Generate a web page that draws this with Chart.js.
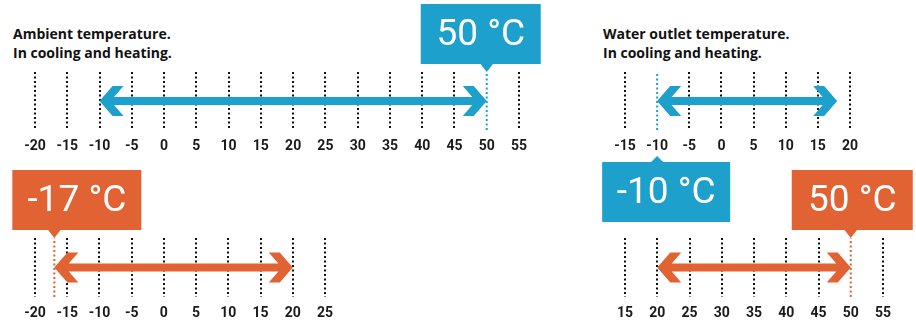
<!DOCTYPE html>
<html>
<head>
<meta charset="utf-8">
<script src="https://cdn.jsdelivr.net/npm/chart.js@4"></script>
<style>
  body { margin: 0; background: #fff; width: 916px; height: 322px; position: relative; overflow: hidden; font-family: Roboto, sans-serif; }
  canvas { position: absolute; }
  .title { position: absolute; font: bold 14px/19px "Open Sans", sans-serif; color: #111; }
</style>
</head>
<body>
<div class="title" style="left:13px; top:24px">Ambient temperature.<br>In cooling and heating.</div>
<div class="title" style="left:603px; top:24px">Water outlet temperature.<br>In cooling and heating.</div>

<canvas id="ambTop" width="560" height="160" style="left:0; top:0"></canvas>
<canvas id="watTop" width="336" height="230" style="left:580px; top:0"></canvas>
<canvas id="ambBot" width="360" height="162" style="left:0; top:160px"></canvas>
<canvas id="watBot" width="336" height="162" style="left:580px; top:160px"></canvas>

<script>
// data
const ambientTopRange = [-10, 50];
const ambientTopAxis = [-20, 55];
const ambientTopLabel = 50;

const ambientBotRange = [-17, 20];
const ambientBotAxis = [-20, 25];
const ambientBotLabel = -17;

const waterTopRange = [-10, 18];
const waterTopAxis = [-15, 20];
const waterTopLabel = -10;

const waterBotRange = [20, 50];
const waterBotAxis = [15, 55];
const waterBotLabel = 50;

const BLUE = '#1ea0cc';
const ORANGE = '#e16233';

// double arrow drawn from the two points of the "arrow" dataset
const arrowPlugin = {
  id: 'arrow',
  afterDatasetsDraw(chart) {
    const ctx = chart.ctx;
    chart.data.datasets.forEach((ds, i) => {
      if (!ds.arrow) return;
      const pts = chart.getDatasetMeta(i).data;
      const x1 = pts[0].x, x2 = pts[1].x, y = pts[0].y;
      const h = 15, t = 4, o = 13, n = 24;
      const ni = n - (h - t) * o / h;
      ctx.save();
      ctx.fillStyle = ds.backgroundColor;
      ctx.beginPath();
      ctx.moveTo(x1, y);
      ctx.lineTo(x1 + o, y - h);
      ctx.lineTo(x1 + n, y - h);
      ctx.lineTo(x1 + ni, y - t);
      ctx.lineTo(x2 - ni, y - t);
      ctx.lineTo(x2 - n, y - h);
      ctx.lineTo(x2 - o, y - h);
      ctx.lineTo(x2, y);
      ctx.lineTo(x2 - o, y + h);
      ctx.lineTo(x2 - n, y + h);
      ctx.lineTo(x2 - ni, y + t);
      ctx.lineTo(x1 + ni, y + t);
      ctx.lineTo(x1 + n, y + h);
      ctx.lineTo(x1 + o, y + h);
      ctx.closePath();
      ctx.fill();
      ctx.restore();
    });
  }
};

// label box with a pointer at a value
const calloutPlugin = {
  id: 'callout',
  afterDraw(chart, args, opts) {
    if (opts.value === undefined) return;
    const ctx = chart.ctx;
    const area = chart.chartArea;
    const px = chart.scales.x.getPixelForValue(opts.value);
    const h = 60;
    let top;
    ctx.save();
    ctx.fillStyle = opts.color;
    ctx.beginPath();
    if (opts.side === 'below') {
      top = area.bottom + 32;
      ctx.moveTo(px - 7, top + 1);
      ctx.lineTo(px, area.bottom + 26);
      ctx.lineTo(px + 7, top + 1);
    } else {
      top = area.top - 8 - h;
      ctx.moveTo(px - 7, top + h - 1);
      ctx.lineTo(px, area.top);
      ctx.lineTo(px + 7, top + h - 1);
    }
    ctx.closePath();
    ctx.fill();
    const left = px - opts.dx;
    ctx.fillRect(left, top, opts.w, h);
    ctx.fillStyle = '#fff';
    ctx.font = '400 37px Roboto, sans-serif';
    ctx.textAlign = 'center';
    ctx.textBaseline = 'alphabetic';
    ctx.fillText(opts.value + ' °C', left + opts.w / 2, top + 41);
    ctx.restore();
  }
};

function makePanel(id, axis, range, mark, color, pad, callout) {
  new Chart(document.getElementById(id), {
    type: 'line',
    data: {
      datasets: [
        {
          data: [{x: mark, y: 0}, {x: mark, y: 1}],
          borderColor: color,
          borderWidth: 2,
          borderDash: [2, 2.5],
          pointRadius: 0
        },
        {
          arrow: true,
          data: [{x: range[0], y: 0.5}, {x: range[1], y: 0.5}],
          backgroundColor: color,
          showLine: false,
          pointRadius: 0
        }
      ]
    },
    options: {
      responsive: false,
      animation: false,
      events: [],
      layout: { padding: pad },
      plugins: {
        legend: { display: false },
        tooltip: { enabled: false },
        callout: callout
      },
      scales: {
        x: {
          type: 'linear',
          min: axis[0],
          max: axis[1],
          z: 1,
          afterFit: s => { s.height = 25; },
          grid: {
            drawTicks: false,
            lineWidth: 2,
            borderDash: [2, 2.5],
            color: c => (c.tick && c.tick.value === mark) ? 'rgba(0,0,0,0)' : '#111'
          },
          border: { display: false, dash: [2, 2.5] },
          ticks: {
            stepSize: 5,
            autoSkip: false,
            maxRotation: 0,
            padding: 8,
            color: '#1a1a1a',
            font: { family: 'Roboto', size: 14, weight: 'bold' }
          }
        },
        y: { display: false, min: 0, max: 1 }
      }
    },
    plugins: [arrowPlugin, calloutPlugin]
  });
}

makePanel('ambTop', ambientTopAxis, ambientTopRange, ambientTopLabel, BLUE,
  {left: 35, right: 41, top: 72, bottom: 5},
  {value: ambientTopLabel, color: BLUE, dx: 66, w: 120, side: 'above'});

makePanel('watTop', waterTopAxis, waterTopRange, waterTopLabel, BLUE,
  {left: 45, right: 66, top: 72, bottom: 75},
  {value: waterTopLabel, color: BLUE, dx: 55, w: 128, side: 'below'});

makePanel('ambBot', ambientBotAxis, ambientBotRange, ambientBotLabel, ORANGE,
  {left: 35, right: 35, top: 78, bottom: 0},
  {value: ambientBotLabel, color: ORANGE, dx: 42, w: 129, side: 'above'});

makePanel('watBot', waterBotAxis, waterBotRange, waterBotLabel, ORANGE,
  {left: 45, right: 33, top: 78, bottom: 0},
  {value: waterBotLabel, color: ORANGE, dx: 59, w: 121, side: 'above'});
</script>
</body>
</html>
